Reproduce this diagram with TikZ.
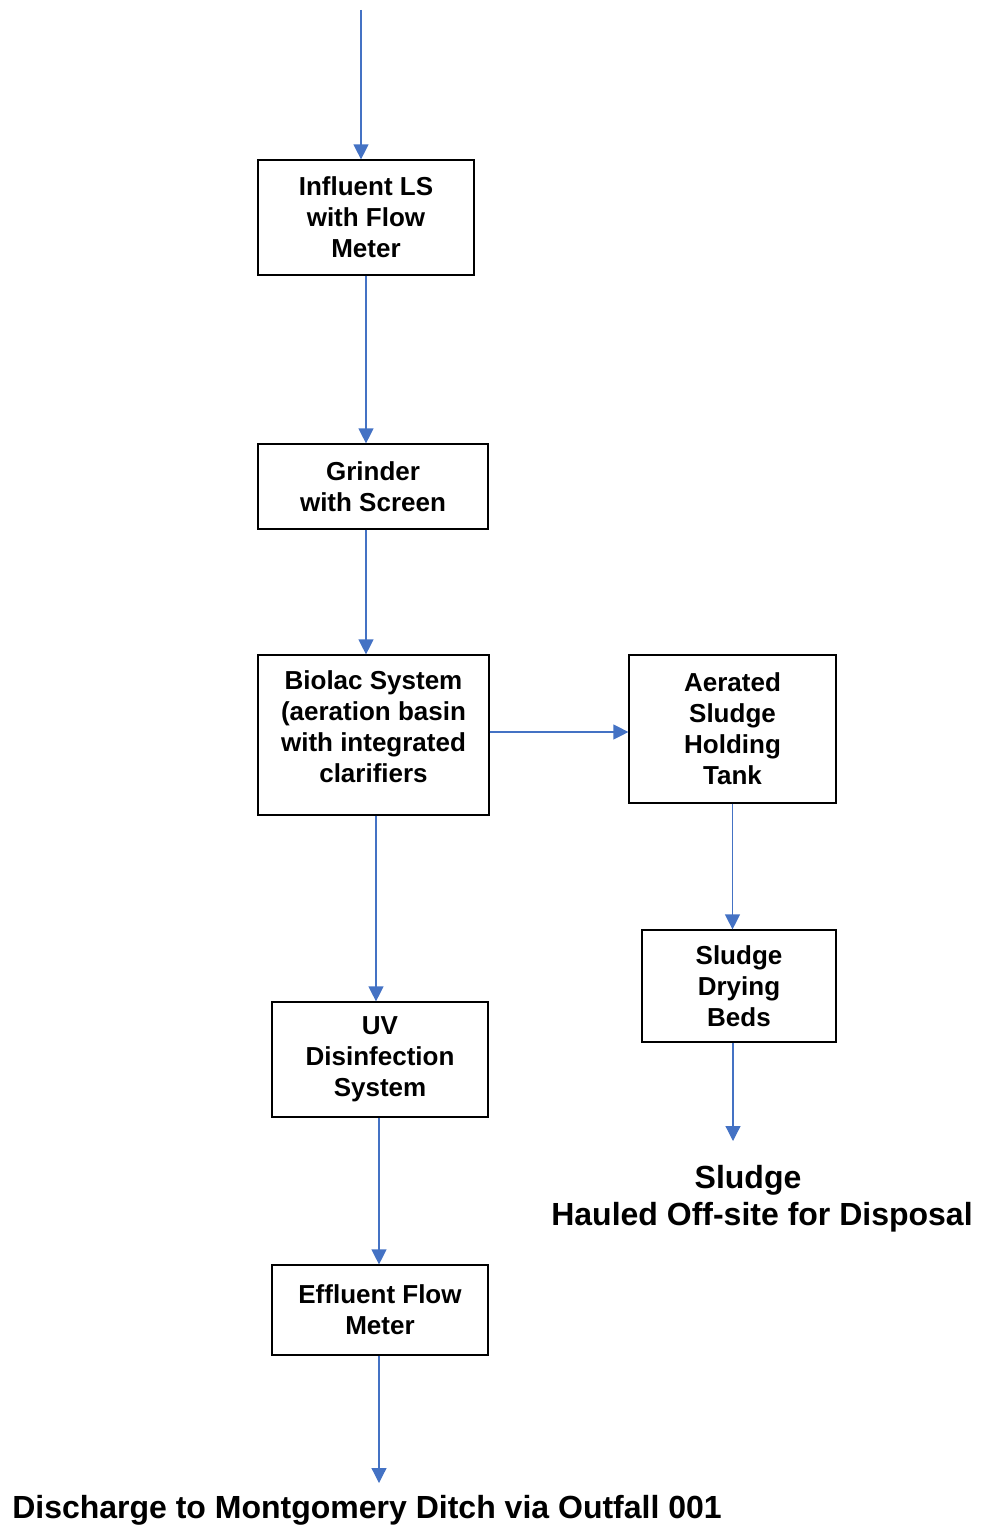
\documentclass[tikz,border=0pt]{standalone}
\usepackage{fontspec}
\setmainfont{Liberation Sans}
\usetikzlibrary{arrows.meta}
\definecolor{flowblue}{HTML}{4472C4}
\begin{document}
\begin{tikzpicture}[x=1pt,y=-1pt,
  box/.style={draw=black,line width=1.2pt,rectangle,inner sep=0pt,align=center,
    font=\fontsize{26}{31}\selectfont\bfseries},
  txt/.style={align=center,inner sep=0pt,font=\fontsize{26}{31}\selectfont\bfseries},
  big/.style={align=center,inner sep=0pt,font=\fontsize{32}{37}\selectfont\bfseries},
  arr/.style={draw=flowblue,line width=1.2pt,-{Triangle[length=15pt,width=15pt]}}]
\useasboundingbox (0,0) rectangle (985,1528);

\node[box,minimum width=216,minimum height=115] (infl) at (366,217.5) {Influent LS\\with Flow\\Meter};
\node[box,minimum width=230,minimum height=85] (grind) at (373,486.5) {Grinder\\with Screen};
\node[box,minimum width=231,minimum height=160] (bio) at (373.5,735) {};
\node[txt] (bioT) at (373.5,727) {Biolac System\\(aeration basin\\with integrated\\clarifiers};
\node[box,minimum width=207,minimum height=148] (aer) at (732.5,729) {Aerated\\Sludge\\Holding\\Tank};
\node[box,minimum width=194,minimum height=112] (dry) at (739,986) {Sludge\\Drying\\Beds};
\node[box,minimum width=216,minimum height=115] (uv) at (380,1059.5) {UV\\Disinfection\\System};
\node[box,minimum width=216,minimum height=90] (eff) at (380,1310) {Effluent Flow\\Meter};

\node[big] (sludge) at (762,1198.5) {Sludge\rule{28pt}{0pt}\\Hauled Off-site for Disposal};
\node[big] (disch) at (367,1510) {Discharge to Montgomery Ditch via Outfall 001};

\coordinate (src) at (361,10);
\coordinate (slend) at (733,1141);
\coordinate (dend) at (379,1483);

\draw[arr] (src) -- (src |- infl.north);
\draw[arr] (infl.south) -- (infl.south |- grind.north);
\draw[arr] ([xshift=-7pt]grind.south) -- ([xshift=-7pt]grind.south |- bio.north);
\draw[arr] ([yshift=3pt]bio.east) -- ([yshift=3pt]bio.east -| aer.west);
\draw[arr] ([xshift=2.5pt]bio.south) -- ([xshift=2.5pt]bio.south |- uv.north);
\draw[arr] ([xshift=-1pt]uv.south) -- ([xshift=-1pt]uv.south |- eff.north);
\draw[arr] (dend |- eff.south) -- (dend);
\draw[arr] (aer.south) -- (aer.south |- dry.north);
\draw[arr] (slend |- dry.south) -- (slend);
\end{tikzpicture}
\end{document}
